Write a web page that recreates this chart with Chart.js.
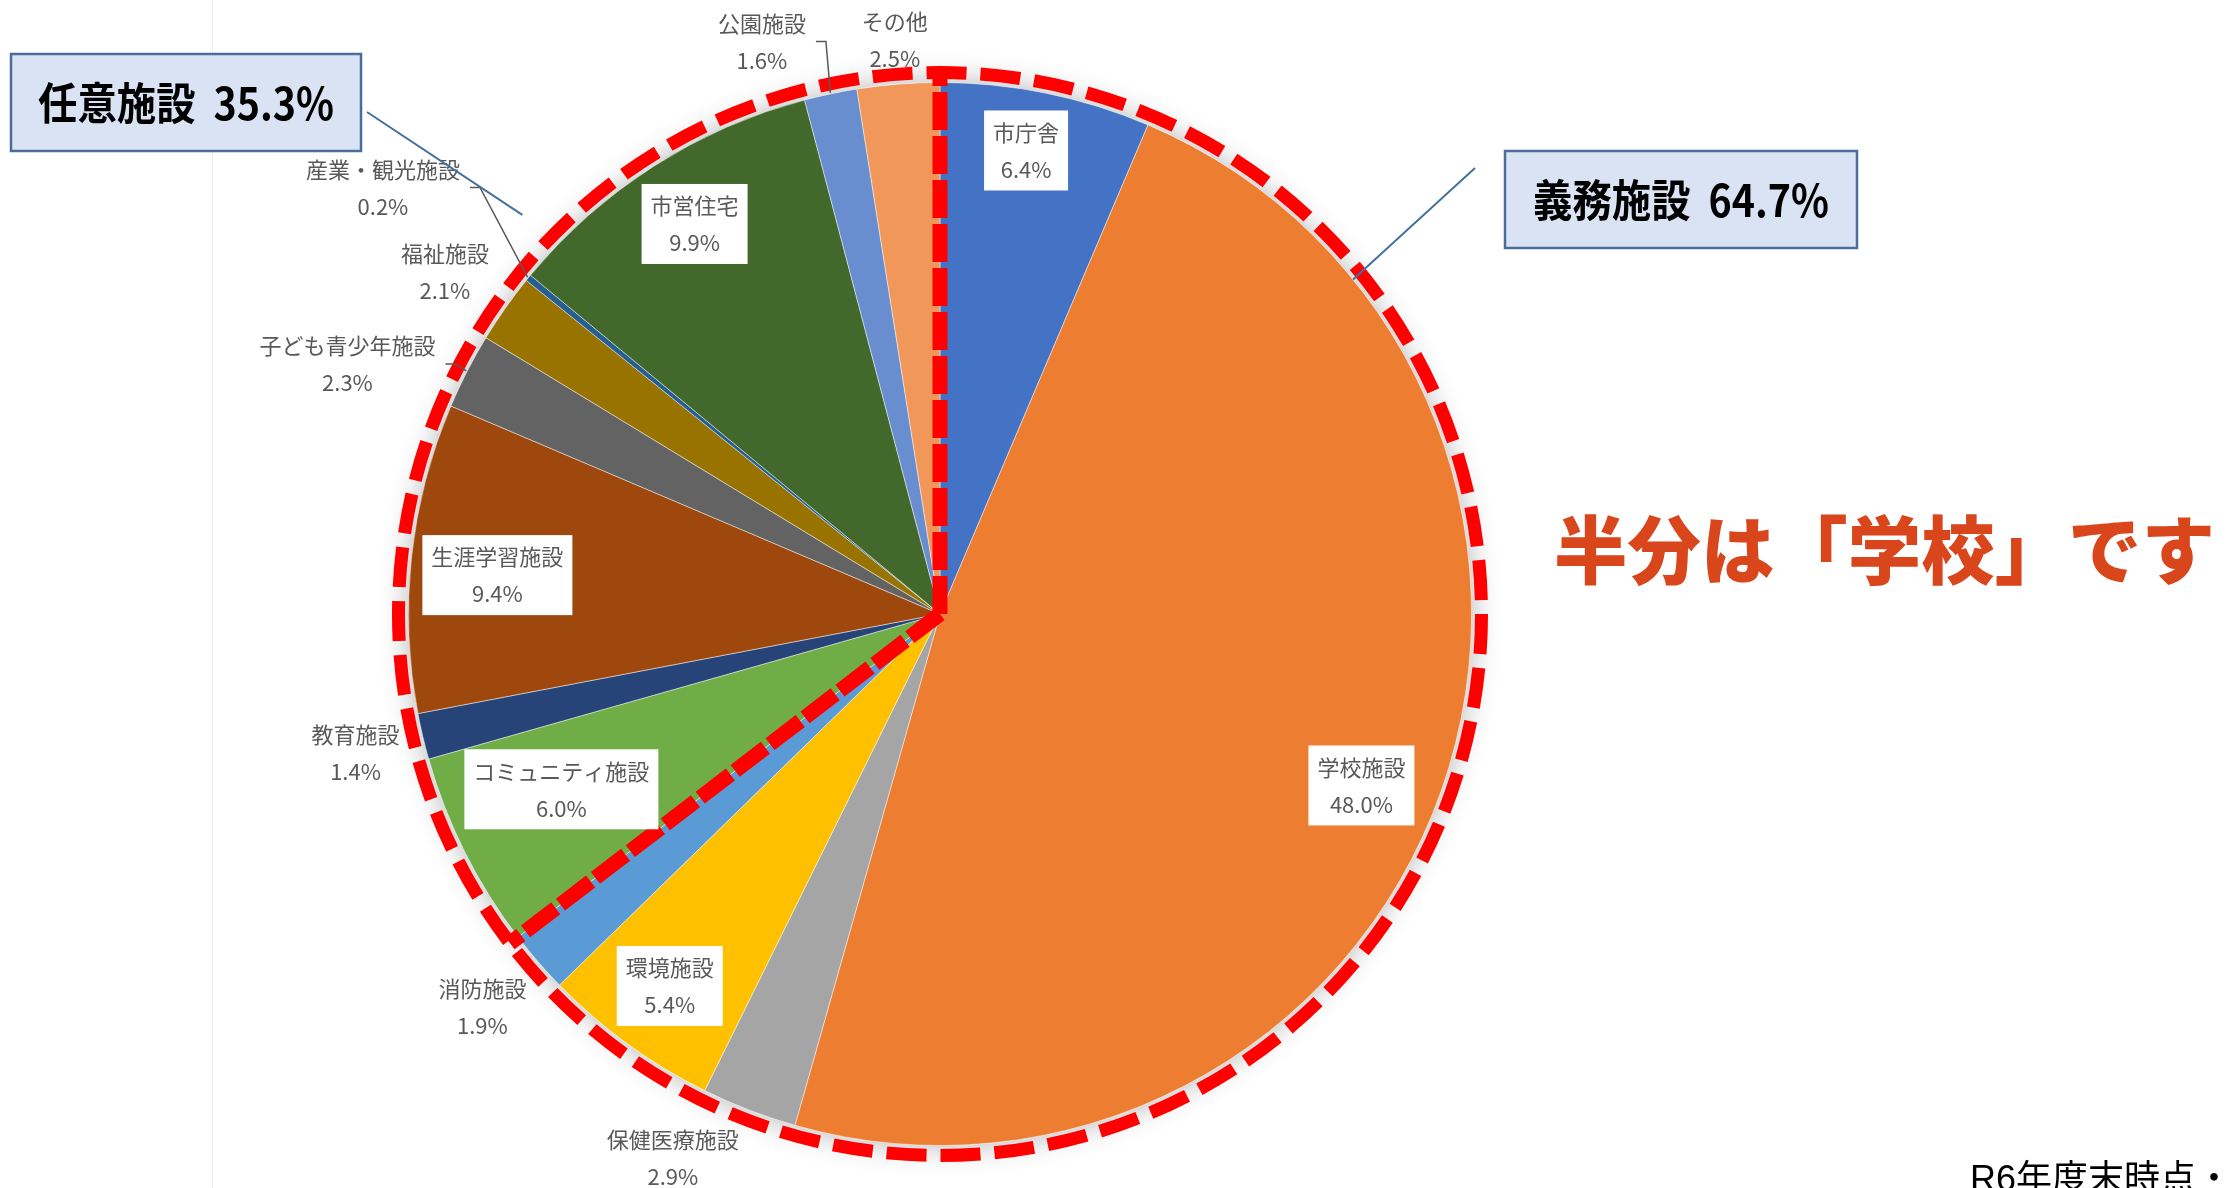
<!DOCTYPE html>
<html lang="ja">
<head>
<meta charset="utf-8">
<title>施設分類別の割合</title>
<script src="https://cdn.jsdelivr.net/npm/chart.js@4/dist/chart.umd.min.js"></script>
<style>
  html, body { margin: 0; padding: 0; background: #fff; }
  canvas { display: block; }
</style>
</head>
<body>
<canvas id="pie" width="2238" height="1188"></canvas>
<script>
// values (clockwise from 12 o'clock)
const categories = ['市庁舎', '学校施設', '保健医療施設', '環境施設', '消防施設', 'コミュニティ施設', '教育施設',
  '生涯学習施設', '子ども青少年施設', '福祉施設', '産業・観光施設', '市営住宅', '公園施設', 'その他'];
const shares = [6.4, 48.0, 2.9, 5.4, 1.9, 6.0, 1.4, 9.4, 2.3, 2.1, 0.2, 9.9, 1.6, 2.5];
const sliceColors = ['#4472C4', '#ED7D31', '#A5A5A5', '#FFC000', '#5B9BD5', '#70AD47', '#264478',
  '#9E480E', '#636363', '#997300', '#255E91', '#43682B', '#698ED0', '#F1975A'];

// the two groups (first 5 slices are 義務施設, the rest 任意施設)
const groupNames = ['義務施設', '任意施設'];
const groupShares = [64.7, 35.3];
const groupSizes = [5, 9];

const headline = '半分は「学校」です';
const footnote = 'R6年度末時点・';

// label placement: [radius factor, angle shift (deg), boxed, leader]
const labelLayout = [
  [0.887, -1.0, true, false],
  [0.856, 2.7, true, false],
  [1.14, 5.1, false, false],
  [0.865, 0, true, false],
  [1.135, 0.2, false, false],
  [0.785, 1.8, true, false],
  [1.13, 0, false, false],
  [0.836, -1.1, true, false],
  [1.21, -4.3, false, true],
  [1.133, -0.4, false, false],
  [1.32, -1.8, false, true],
  [0.867, 0.4, true, false],
  [1.128, -5.4, false, true],
  [1.084, 0, false, false]
];

// callout boxes: [x, y, w, h], leader start, leader end (compass deg, radius factor)
const callouts = [
  { group: 0, box: [1505, 151, 352, 97], from: [1475, 168], toDeg: 51, toR: 1.0 },
  { group: 1, box: [11, 54, 350, 97], from: [367, 112], toDeg: 313.7, toR: 1.087 }
];

const LABEL_FONT = '22px "Noto Sans CJK JP", "Noto Sans", sans-serif';

function fillFit(ctx, text, x, y, maxW) {
  const w = ctx.measureText(text).width;
  if (w <= maxW) { ctx.fillText(text, x, y); return; }
  ctx.save();
  ctx.translate(x, y);
  ctx.scale(maxW / w, 1);
  ctx.fillText(text, 0, 0);
  ctx.restore();
}

const overlay = {
  id: 'overlay',
  beforeDatasetsDraw(chart) {
    const arc = chart.getDatasetMeta(0).data[0];
    const ctx = chart.ctx;
    ctx.save();
    ctx.shadowColor = 'rgba(0,0,0,0.3)';
    ctx.shadowBlur = 30;
    ctx.fillStyle = '#fff';
    ctx.beginPath();
    ctx.arc(arc.x, arc.y, arc.outerRadius, 0, Math.PI * 2);
    ctx.fill();
    ctx.restore();
  },
  afterDatasetsDraw(chart) {
    const ctx = chart.ctx;
    const arcs = chart.getDatasetMeta(0).data;
    const cx = arcs[0].x, cy = arcs[0].y, R = arcs[0].outerRadius;
    const ringR = R + 10;

    // faint frame edge on the left
    ctx.save();
    ctx.strokeStyle = '#EFEFEF';
    ctx.lineWidth = 1;
    ctx.beginPath(); ctx.moveTo(212.5, 0); ctx.lineTo(212.5, 1188); ctx.stroke();
    ctx.restore();

    // red dashed outline + group boundaries
    ctx.save();
    ctx.strokeStyle = '#FF0000';
    ctx.lineWidth = 13;
    ctx.setLineDash([40, 14]);
    ctx.beginPath();
    ctx.arc(cx, cy, ringR, 0, Math.PI * 2);
    ctx.stroke();
    ctx.lineWidth = 15;
    ctx.setLineDash([38, 6]);
    const cut = [arcs[0].startAngle, arcs[groupSizes[0] - 1].endAngle];
    cut.forEach(a => {
      ctx.beginPath();
      ctx.moveTo(cx, cy);
      ctx.lineTo(cx + ringR * Math.cos(a), cy + ringR * Math.sin(a));
      ctx.stroke();
    });
    ctx.restore();

    // data labels
    ctx.save();
    ctx.font = LABEL_FONT;
    ctx.textAlign = 'center';
    ctx.textBaseline = 'middle';
    arcs.forEach((arc, i) => {
      const [rf, shift, boxed, leader] = labelLayout[i];
      const mid = (arc.startAngle + arc.endAngle) / 2;
      const a = mid + shift * Math.PI / 180;
      const lx = cx + rf * R * Math.cos(a);
      const ly = cy + rf * R * Math.sin(a);
      const l1 = categories[i];
      const l2 = shares[i].toFixed(1) + '%';
      const tw = Math.max(ctx.measureText(l1).width, ctx.measureText(l2).width);
      if (boxed) {
        ctx.fillStyle = '#fff';
        ctx.fillRect(lx - tw / 2 - 9, ly - 40, tw + 18, 80);
      }
      if (leader) {
        const sx = lx + tw / 2 + 10;
        ctx.strokeStyle = '#595959';
        ctx.lineWidth = 1.5;
        ctx.beginPath();
        ctx.moveTo(sx, ly);
        ctx.lineTo(sx + 10, ly);
        ctx.lineTo(cx + (R + 1) * Math.cos(mid), cy + (R + 1) * Math.sin(mid));
        ctx.stroke();
      }
      ctx.fillStyle = '#595959';
      ctx.fillText(l1, lx, ly - 18);
      ctx.fillText(l2, lx, ly + 19);
    });
    ctx.restore();

    // group callouts
    ctx.save();
    callouts.forEach(c => {
      const [bx, by, bw, bh] = c.box;
      const a = (c.toDeg - 90) * Math.PI / 180;
      ctx.strokeStyle = '#41719C';
      ctx.lineWidth = 2;
      ctx.beginPath();
      ctx.moveTo(c.from[0], c.from[1]);
      ctx.lineTo(cx + c.toR * R * Math.cos(a), cy + c.toR * R * Math.sin(a));
      ctx.stroke();
      ctx.fillStyle = '#DAE3F3';
      ctx.fillRect(bx, by, bw, bh);
      ctx.strokeStyle = '#4A6D9C';
      ctx.lineWidth = 2.5;
      ctx.strokeRect(bx, by, bw, bh);
      ctx.fillStyle = '#000';
      ctx.font = 'bold 44px "Noto Sans CJK JP", sans-serif';
      ctx.textAlign = 'center';
      ctx.textBaseline = 'middle';
      const txt = groupNames[c.group] + '  ' + groupShares[c.group].toFixed(1) + '%';
      fillFit(ctx, txt, bx + bw / 2, by + bh / 2 + 1, 296);
    });
    ctx.restore();

    // headline and footnote
    ctx.save();
    ctx.fillStyle = '#DA461B';
    ctx.font = '900 74px "Noto Sans CJK JP", sans-serif';
    ctx.textAlign = 'left';
    ctx.textBaseline = 'middle';
    fillFit(ctx, headline, 1554, 550, 661);
    ctx.fillStyle = '#000';
    ctx.font = '36px "Liberation Sans", "Noto Sans CJK JP", sans-serif';
    ctx.textBaseline = 'alphabetic';
    ctx.fillText(footnote, 1970, 1191);
    ctx.restore();
  }
};

new Chart(document.getElementById('pie'), {
  type: 'pie',
  data: {
    labels: categories,
    datasets: [{
      data: shares,
      backgroundColor: sliceColors,
      borderColor: 'rgba(255,255,255,0.45)',
      borderWidth: 1
    }]
  },
  options: {
    responsive: false,
    animation: false,
    devicePixelRatio: 1,
    layout: { padding: { left: 408, right: 766, top: 82, bottom: 42 } },
    plugins: {
      legend: { display: false },
      tooltip: { enabled: false }
    }
  },
  plugins: [overlay]
});
</script>
</body>
</html>
